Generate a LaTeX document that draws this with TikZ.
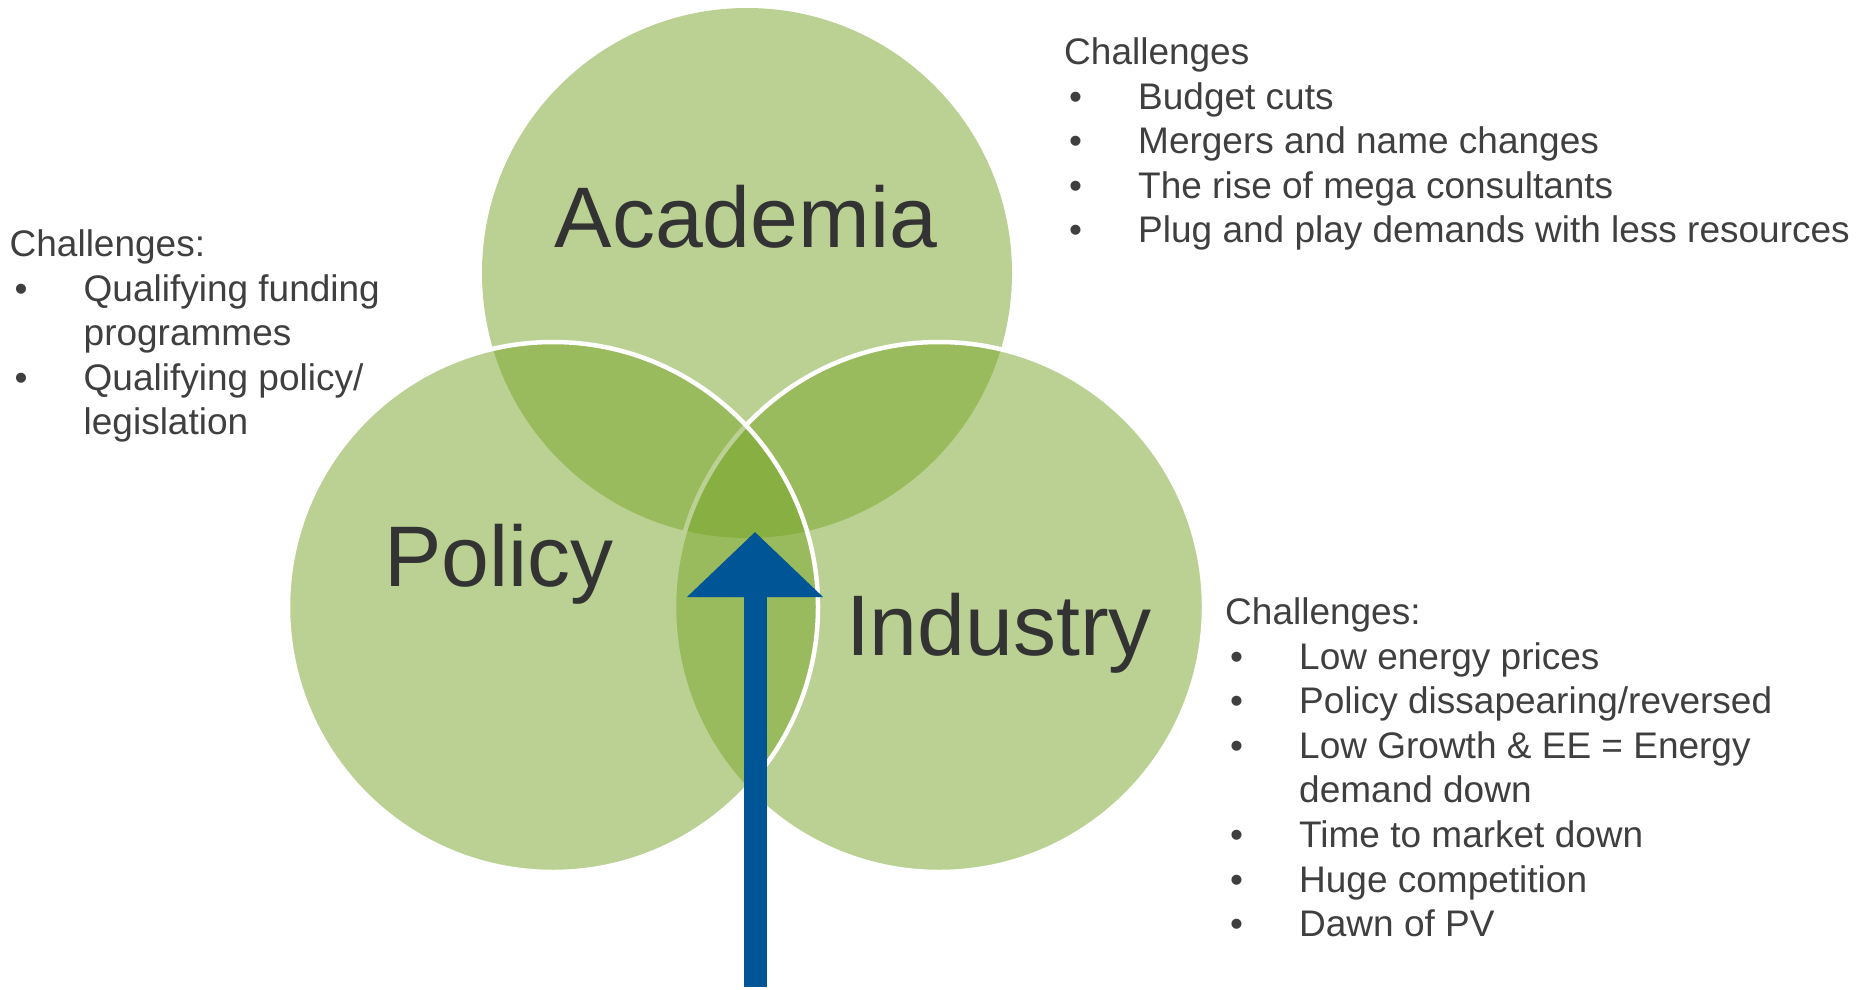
\documentclass[tikz,border=0pt]{standalone}
\usepackage{fontspec}
\setmainfont{Liberation Sans}
\usetikzlibrary{positioning, arrows.meta}

\definecolor{venngreen}{HTML}{78A428}
\definecolor{arrowblue}{HTML}{005596}
\definecolor{textgrey}{HTML}{3F3F3F}
\definecolor{labelgrey}{HTML}{333333}

\newcommand{\bul}{\makebox[74pt][l]{\hspace{5pt}\textbullet}}
\newcommand{\cont}{\makebox[74pt]{}}

\begin{document}
\begin{tikzpicture}[x=1pt,y=-1pt,
	venn/.style={circle,minimum size=530pt,inner sep=0pt,fill=venngreen,fill opacity=0.5},
	rim/.style={draw=white,line width=4.5pt},
	biglabel/.style={anchor=base,text=labelgrey,font=\fontsize{86}{100}\selectfont},
	challenges/.style={anchor=north west,inner sep=0pt,align=left,text=textgrey,font=\fontsize{37}{44.6}\selectfont},
	bluearrow/.style={draw=arrowblue,line width=23pt,-{Triangle[length=65pt,width=132pt]}}]
	\useasboundingbox (0,0) rectangle (1860,990);

	%circles
	\node (academia) at (747,273) [venn] {};
	\node (industry) at (939,607) [venn,rim] {};
	\node (policy) at (553,607) [venn,rim] {};

	\node (academialabel) at (746,247) [biglabel] {Academia};
	\node (policylabel) at (499,586) [biglabel] {Policy};
	\node (industrylabel) at (999,655) [biglabel] {Industry};

	%arrow into the middle
	\coordinate (arrowfoot) at (755,987);
	\coordinate (arrowtip) at (755,532);
	\draw[bluearrow,draw=black,opacity=0.2,shift={(2,2)}] (arrowfoot) -- (arrowtip);
	\draw[bluearrow] (arrowfoot) -- (arrowtip);

	%challenges
	\node (policytext) at (9.5,229.5) [challenges] {Challenges:\\
		\bul Qualifying funding\\
		\cont programmes\\
		\bul Qualifying policy/\\
		\cont legislation};
	\node (academiatext) at (1064,37.5) [challenges] {Challenges\\
		\bul Budget cuts\\
		\bul Mergers and name changes\\
		\bul The rise of mega consultants\\
		\bul Plug and play demands with less resources};
	\node (industrytext) at (1225,597.5) [challenges] {Challenges:\\
		\bul Low energy prices\\
		\bul Policy dissapearing/reversed\\
		\bul Low Growth \& EE = Energy\\
		\cont demand down\\
		\bul Time to market down\\
		\bul Huge competition\\
		\bul Dawn of PV};
\end{tikzpicture}
\end{document}
